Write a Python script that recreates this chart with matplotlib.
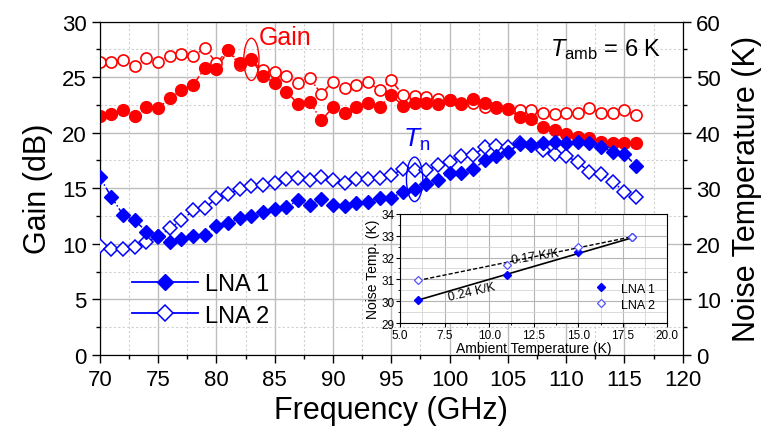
import numpy as np
import matplotlib
matplotlib.use("Agg")
import matplotlib.pyplot as plt
from matplotlib.patches import Ellipse
from matplotlib.lines import Line2D
from matplotlib.ticker import MultipleLocator, FormatStrFormatter

plt.rcParams['font.family'] = ['Liberation Sans', 'DejaVu Sans']
plt.rcParams['mathtext.fontset'] = 'custom'
plt.rcParams['mathtext.rm'] = 'Liberation Sans'
plt.rcParams['mathtext.it'] = 'Liberation Sans:italic'

freq = np.arange(70, 117)

gain_lna1 = [21.5, 21.7, 22.0, 21.5, 22.3, 22.2, 23.1, 23.8, 24.3, 25.8,
             25.7, 27.4, 26.3, 26.6, 25.1, 24.5, 23.7, 22.6, 22.8, 21.1,
             22.3, 21.8, 22.3, 22.7, 22.3, 23.4, 22.4, 22.7, 22.7, 22.6,
             22.9, 22.6, 23.0, 22.7, 22.3, 22.1, 21.4, 21.2, 20.5, 20.2,
             19.9, 19.6, 19.5, 19.2, 19.1, 19.1, 19.1]
gain_lna2 = [26.4, 26.4, 26.5, 26.0, 26.7, 26.4, 26.9, 27.1, 26.9, 27.6,
             26.3, 27.4, 26.1, 26.5, 25.6, 25.5, 25.1, 24.5, 24.9, 23.5,
             24.6, 24.0, 24.3, 24.6, 23.8, 24.7, 23.4, 23.3, 23.2, 23.0,
             22.9, 22.7, 22.7, 22.3, 22.2, 22.1, 22.0, 22.0, 21.8, 21.7,
             21.8, 21.8, 22.2, 21.8, 21.8, 22.0, 21.6]
tn_lna1 = [32.0, 28.4, 25.2, 24.2, 22.2, 21.4, 20.4, 20.8, 21.4, 21.6,
           23.2, 23.8, 24.6, 25.0, 25.8, 26.2, 26.6, 27.8, 27.0, 28.0,
           27.0, 26.8, 27.4, 27.6, 28.2, 28.2, 29.4, 29.8, 30.8, 31.4,
           32.8, 32.8, 33.4, 35.0, 35.8, 36.6, 38.0, 37.8, 38.2, 38.4,
           38.2, 38.4, 38.2, 37.5, 36.5, 36.2, 34.0]
tn_lna2 = [19.6, 19.0, 19.0, 19.4, 20.4, 21.2, 22.8, 24.2, 26.0, 26.4,
           28.2, 29.0, 29.8, 30.4, 30.6, 31.0, 31.6, 31.9, 31.4, 32.0,
           31.4, 31.0, 31.6, 31.6, 31.8, 32.4, 33.4, 33.2, 33.2, 34.1,
           34.7, 35.8, 35.9, 37.4, 37.6, 37.4, 38.1, 37.8, 36.8, 36.2,
           35.8, 34.7, 32.9, 32.6, 31.1, 29.4, 28.4]

# inset: noise temperature vs ambient temperature
t_amb = [6, 11, 15, 18]
inset_lna1 = [30.05, 31.18, 32.25, 32.92]
inset_lna2 = [30.97, 31.65, 32.50, 32.95]
fit_x = [6, 18]
fit_lna1 = [30.05, 32.90]
fit_lna2 = [30.95, 32.95]

red = '#ff0000'
blue = '#0000ff'
dashdot = (0, (4, 1.5, 1, 1.5))

fig = plt.figure(figsize=(7.68, 4.35), dpi=100)
ax = fig.add_axes([0.130, 0.182, 0.759, 0.766])
ax2 = ax.twinx()

ax.plot(freq, gain_lna2, linestyle=dashdot, lw=1.1, color=red, marker='o',
        ms=8, mfc='white', mec=red, mew=1.2, zorder=3)
ax.plot(freq, gain_lna1, linestyle=dashdot, lw=1.1, color=red, marker='o',
        ms=8.5, mfc=red, mec=red, zorder=4)
ax2.plot(freq, tn_lna1, linestyle=dashdot, lw=1.1, color=blue, marker='D',
         ms=7.5, mfc=blue, mec=blue, zorder=4)
ax2.plot(freq, tn_lna2, linestyle=dashdot, lw=1.1, color=blue, marker='D',
         ms=7, mfc='white', mec=blue, mew=1.1, zorder=3)

ax.set_xlim(70, 120)
ax.set_ylim(0, 30)
ax2.set_ylim(0, 60)
ax.xaxis.set_major_locator(MultipleLocator(5))
ax.xaxis.set_minor_locator(MultipleLocator(2.5))
ax.yaxis.set_major_locator(MultipleLocator(5))
ax.yaxis.set_minor_locator(MultipleLocator(2.5))
ax2.yaxis.set_major_locator(MultipleLocator(10))
ax2.yaxis.set_minor_locator(MultipleLocator(5))

ax.grid(which='major', color='#bdbdbd', lw=1.0)
ax.grid(which='minor', color='#d0d0d0', lw=0.8, linestyle=(0, (2, 2)))
ax.set_axisbelow(True)

for a in (ax, ax2):
    a.tick_params(which='major', direction='out', length=6, width=1, labelsize=16)
    a.tick_params(which='minor', direction='out', length=3, width=1)
ax.tick_params(axis='x', pad=4)

ax.set_xlabel('Frequency (GHz)', fontsize=22)
ax.set_ylabel('Gain (dB)', fontsize=22, labelpad=6)
ax2.set_ylabel('Noise Temperature (K)', fontsize=22, labelpad=8)

ax.add_patch(Ellipse((83, 26.6), 1.3, 3.8, fill=False, ec=red, lw=1.0, zorder=5))
ax.text(83.6, 28.6, 'Gain', color=red, fontsize=18, ha='left', va='center')
ax2.add_patch(Ellipse((97, 31.6), 1.4, 8.0, fill=False, ec=blue, lw=1.0, zorder=5))
ax2.text(97.2, 38.8, r'$T_\mathrm{n}$', color=blue, fontsize=19, ha='center', va='center')
ax.text(108.6, 27.6, r'$T_\mathrm{amb}$ = 6 K', color='black', fontsize=17,
        ha='left', va='center')

handles = [
    Line2D([], [], color=blue, lw=1.3, marker='D', ms=8, mfc=blue, mec=blue),
    Line2D([], [], color=blue, lw=1.3, marker='D', ms=8, mfc='white', mec=blue, mew=1.1),
]
ax2.legend(handles, ['LNA 1', 'LNA 2'], loc='center left',
           bbox_to_anchor=(0.035, 0.165), frameon=False, fontsize=17,
           handlelength=2.8, handletextpad=0.3, labelspacing=0.4, borderpad=0)

# inset
ins = fig.add_axes([0.521, 0.255, 0.348, 0.251])
ins.plot(fit_x, fit_lna1, color='black', lw=1.2)
ins.plot(fit_x, fit_lna2, color='black', lw=1.0, linestyle=(0, (3, 1.5)))
ins.plot(t_amb, inset_lna1, linestyle='none', marker='D', ms=4, color=blue,
         label='LNA 1')
ins.plot(t_amb, inset_lna2, linestyle='none', marker='D', ms=4, mfc='white',
         mec='#5555ff', mew=0.9, label='LNA 2')
ins.set_xlim(5, 20)
ins.set_ylim(29, 34)
ins.xaxis.set_major_locator(MultipleLocator(2.5))
ins.xaxis.set_minor_locator(MultipleLocator(1.25))
ins.yaxis.set_major_locator(MultipleLocator(1))
ins.yaxis.set_minor_locator(MultipleLocator(0.5))
ins.xaxis.set_major_formatter(FormatStrFormatter('%.1f'))
ins.grid(which='major', color='#b5b5b5', lw=0.8)
ins.grid(which='minor', color='#d5d5d5', lw=0.6)
ins.set_axisbelow(True)
ins.tick_params(which='major', direction='out', length=3, labelsize=8.5, pad=1)
ins.tick_params(which='minor', direction='out', length=1.5)
ins.set_xlabel('Ambient Temperature (K)', fontsize=10, labelpad=0)
ins.set_ylabel('Noise Temp. (K)', fontsize=10, labelpad=1)
ins.text(9.0, 30.42, '0.24 K/K', fontsize=9, rotation=13, ha='center', va='center')
ins.text(12.6, 32.08, '0.17 K/K', fontsize=9, rotation=9, ha='center', va='center')
ins.legend(loc='lower right', frameon=False, fontsize=9, handletextpad=0.6,
           labelspacing=0.3, borderaxespad=0.6)

fig.savefig('out.png', dpi=100)
